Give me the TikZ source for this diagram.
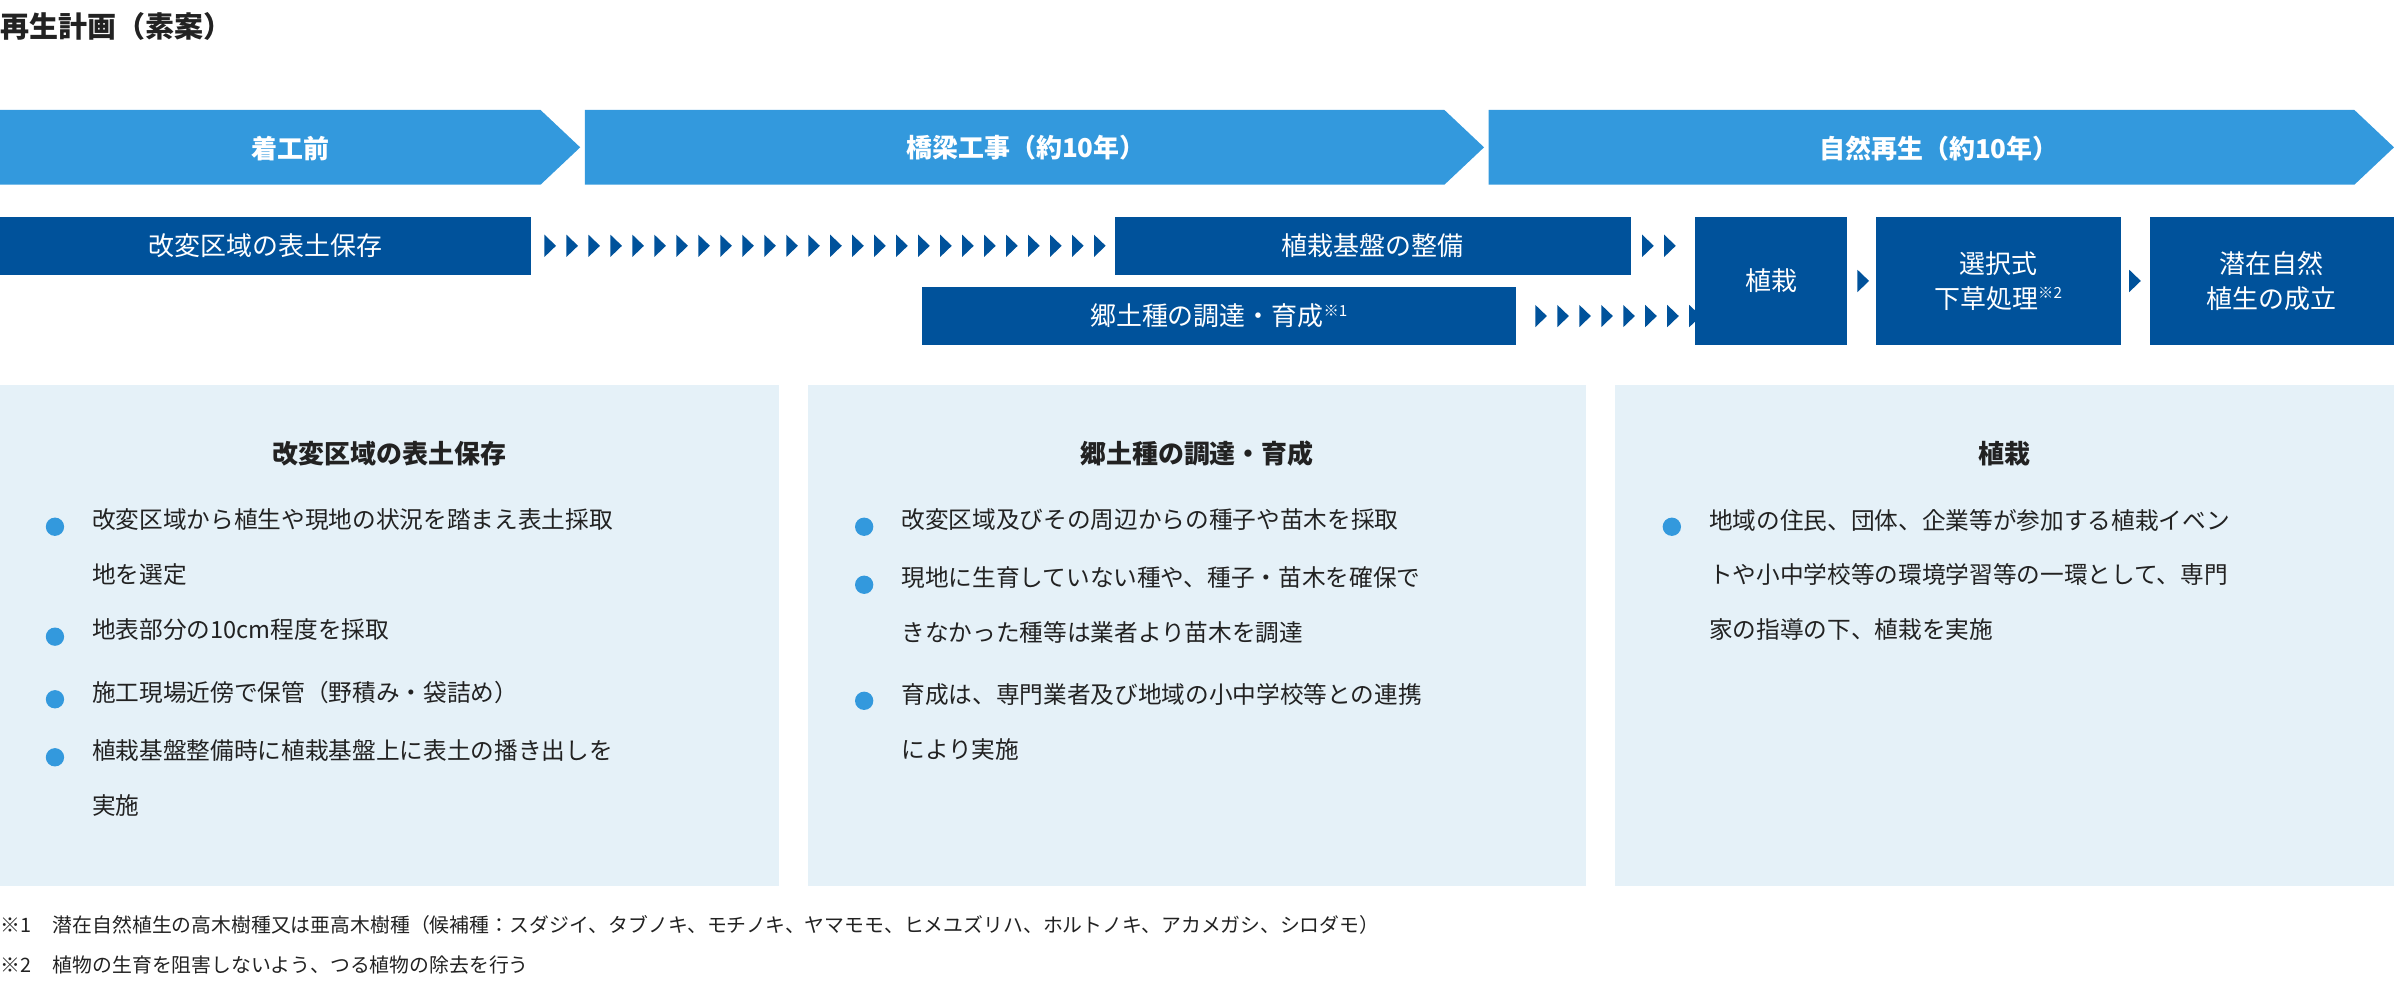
\documentclass[tikz,border=0pt]{standalone}
\usepackage{fontspec}
\setmainfont{Noto Sans CJK JP}
\usetikzlibrary{calc}
\definecolor{phase}{HTML}{3399DD}
\definecolor{task}{HTML}{00529B}
\definecolor{panel}{HTML}{E5F1F8}
\definecolor{ink}{HTML}{222222}
\tikzset{every picture/.style={line width=0.75pt}}
\tikzset{
  tasknode/.style={fill=task,text=white,inner sep=0pt,align=center,font=\fontsize{17}{23}\selectfont},
  phaselabel/.style={text=white,inner sep=0pt,font=\fontsize{17}{20}\selectfont\bfseries},
  head/.style={text=ink,inner sep=0pt,font=\fontsize{17}{20}\selectfont\bfseries},
  item/.style={text=ink,anchor=north west,inner sep=0pt,align=left,font=\fontsize{15.5}{36}\selectfont},
  note/.style={text=ink,anchor=west,inner sep=0pt,font=\fontsize{13}{16}\selectfont},
  dot/.style={circle,fill=phase,minimum size=12pt,inner sep=0pt},
}
\newcommand{\tri}[1]{\fill[task] (#1) ++(-3.8,-7.3) -- ++(7.6,7.3) -- ++(-7.6,7.3) -- cycle;}
\begin{document}
\begin{tikzpicture}[x=1pt,y=1pt,yscale=-1,xscale=1]
\useasboundingbox (0,0) rectangle (1568,642);

% Title
\node[anchor=north west,inner sep=0pt,font=\fontsize{19}{22}\selectfont\bfseries,text=ink] (title) at (0,8) {再生計画（素案）};

% Phase chevrons
\fill[phase] (0,72) -- (354,72) -- (380,96.5) -- (354,121) -- (0,121) -- cycle;
\fill[phase] (383,72) -- (946,72) -- (972,96.5) -- (946,121) -- (383,121) -- cycle;
\fill[phase] (975,72) -- (1542,72) -- (1568,96.5) -- (1542,121) -- (975,121) -- cycle;
\node[phaselabel] (p1) at (190,97) {着工前};
\node[phaselabel] (p2) at (672,97) {橋梁工事（約10年）};
\node[phaselabel] (p3) at (1270,97) {自然再生（約10年）};

% Task boxes
\node[tasknode,minimum width=348pt,minimum height=38pt] (keep) at (174,161) {改変区域の表土保存};
\node[tasknode,minimum width=338pt,minimum height=38pt] (base) at (899,161) {植栽基盤の整備};
\node[tasknode,minimum width=389pt,minimum height=38pt] (seed) at (798.5,207) {郷土種の調達・育成\textsuperscript{\fontsize{10}{10}\selectfont ※1}};
\node[tasknode,minimum width=100pt,minimum height=84pt] (plant) at (1160,184) {植栽};
\node[tasknode,minimum width=160pt,minimum height=84pt] (weed) at (1309,184) {選択式\\下草処理\textsuperscript{\fontsize{10}{10}\selectfont ※2}};
\node[tasknode,minimum width=160pt,minimum height=84pt] (climax) at (1488,184) {潜在自然\\植生の成立};

% Triangle chains
\foreach \i in {0,...,25} {\tri{$(keep.east)+(12+\i*14.4,0)$}}
\foreach \i in {0,1} {\tri{$(base.east)+(11+\i*14.4,0)$}}
\foreach \i in {0,...,7} {\tri{$(seed.east)+(16+\i*14.4,0)$}}
\tri{$(plant.east)+(10,0)$}
\tri{$(weed.east)+(9,0)$}

% Panels
\fill[panel] (0,252) rectangle (510,580);
\fill[panel] (529,252) rectangle (1039,580);
\fill[panel] (1058,252) rectangle (1568,580);
\node[head] (h1) at (255,297) {改変区域の表土保存};
\node[head] (h2) at (784,297) {郷土種の調達・育成};
\node[head] (h3) at (1313,297) {植栽};

\foreach \y in {345,417,458,496} \node[dot] at (36,\y) {};
\node[item] (a1) at (60,333) {改変区域から植生や現地の状況を踏まえ表土採取\\地を選定};
\node[item] (a2) at (60,405) {地表部分の10cm程度を採取};
\node[item] (a3) at (60,446) {施工現場近傍で保管（野積み・袋詰め）};
\node[item] (a4) at (60,484) {植栽基盤整備時に植栽基盤上に表土の播き出しを\\実施};

\foreach \y in {345,383,459} \node[dot] at (566,\y) {};
\node[item] (b1) at (590,333) {改変区域及びその周辺からの種子や苗木を採取};
\node[item] (b2) at (590,371) {現地に生育していない種や、種子・苗木を確保で\\きなかった種等は業者より苗木を調達};
\node[item] (b3) at (590,447) {育成は、専門業者及び地域の小中学校等との連携\\により実施};

\node[dot] at (1095,345) {};
\node[item] (c1) at (1119,333) {地域の住民、団体、企業等が参加する植栽イベン\\トや小中学校等の環境学習等の一環として、専門\\家の指導の下、植栽を実施};

% Footnotes
\node[note] (n1) at (0,606) {※1\hspace{14pt}潜在自然植生の高木樹種又は亜高木樹種（候補種：スダジイ、タブノキ、モチノキ、ヤマモモ、ヒメユズリハ、ホルトノキ、アカメガシ、シロダモ）};
\node[note] (n2) at (0,632) {※2\hspace{14pt}植物の生育を阻害しないよう、つる植物の除去を行う};
\end{tikzpicture}
\end{document}
